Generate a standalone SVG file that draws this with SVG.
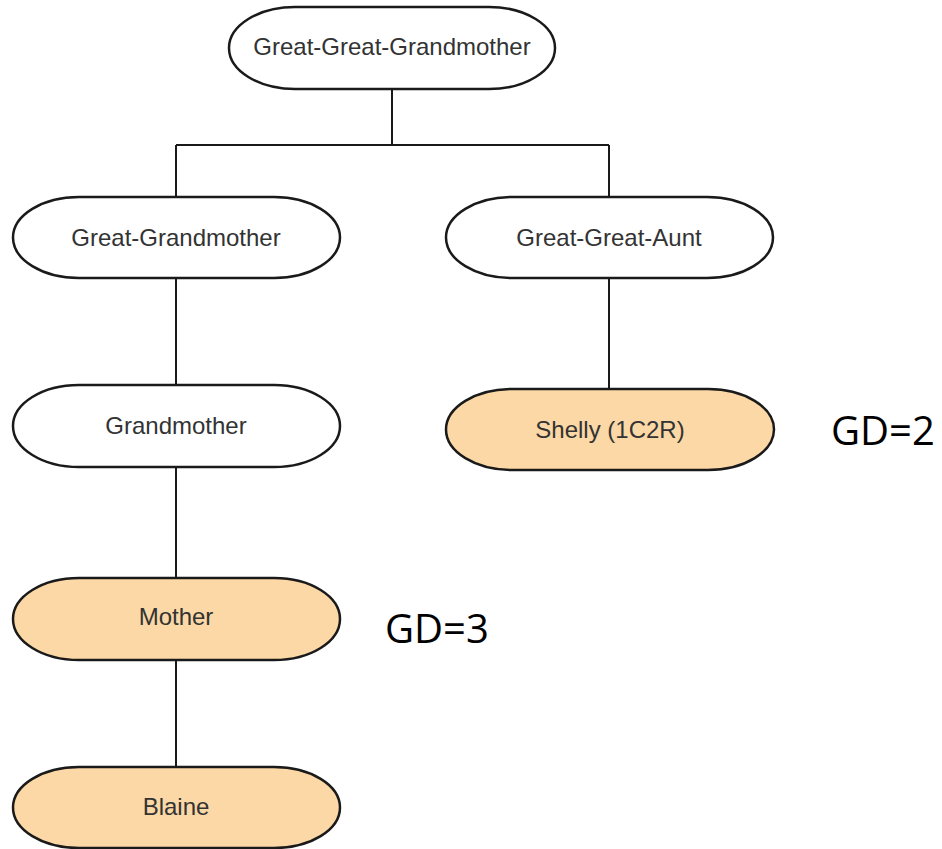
<svg xmlns="http://www.w3.org/2000/svg" width="942" height="849" viewBox="0 0 942 849">
  <style>
    .node { stroke: #1a1a1a; stroke-width: 2.5; }
    .plain { fill: #ffffff; }
    .kin { fill: #fbd8a5; }
    .label { font-family: "Liberation Sans", Arial, sans-serif; font-size: 24px; fill: #333333; text-anchor: middle; dominant-baseline: central; }
    .gd { font-family: "Open Sans", "Noto Sans", sans-serif; font-size: 40px; fill: #000000; }
    .wire { fill: none; stroke: #1a1a1a; stroke-width: 2; }
  </style>
  <rect width="942" height="849" fill="#ffffff"/>

  <g id="connectors">
    <path class="wire" d="M392 89 V145 M176 145 H609 M176 145 V197 M609 145 V197"/>
    <path class="wire" d="M176 278 V385"/>
    <path class="wire" d="M609 278 V389"/>
    <path class="wire" d="M176 467 V578"/>
    <path class="wire" d="M176 660 V767"/>
  </g>

  <g id="great-great-grandmother">
    <rect class="node plain" x="229" y="7" width="326" height="82" rx="66" ry="41"/>
    <text class="label" x="392" y="46">Great-Great-Grandmother</text>
  </g>
  <g id="great-grandmother">
    <rect class="node plain" x="13" y="197" width="327" height="81" rx="66" ry="40.5"/>
    <text class="label" x="176" y="237">Great-Grandmother</text>
  </g>
  <g id="great-great-aunt">
    <rect class="node plain" x="446" y="197" width="327" height="81" rx="66" ry="40.5"/>
    <text class="label" x="609" y="237">Great-Great-Aunt</text>
  </g>
  <g id="grandmother">
    <rect class="node plain" x="13" y="385" width="327" height="82" rx="66" ry="41"/>
    <text class="label" x="176" y="425">Grandmother</text>
  </g>
  <g id="shelly">
    <rect class="node kin" x="446" y="389" width="328" height="81" rx="66" ry="40.5"/>
    <text class="label" x="610" y="429">Shelly (1C2R)</text>
  </g>
  <g id="mother">
    <rect class="node kin" x="13" y="578" width="327" height="82" rx="66" ry="41"/>
    <text class="label" x="176" y="616">Mother</text>
  </g>
  <g id="blaine">
    <rect class="node kin" x="13" y="767" width="327" height="81" rx="66" ry="40.5"/>
    <text class="label" x="176" y="806">Blaine</text>
  </g>

  <text class="gd" x="831" y="445">GD=2</text>
  <text class="gd" x="385" y="643">GD=3</text>
</svg>
